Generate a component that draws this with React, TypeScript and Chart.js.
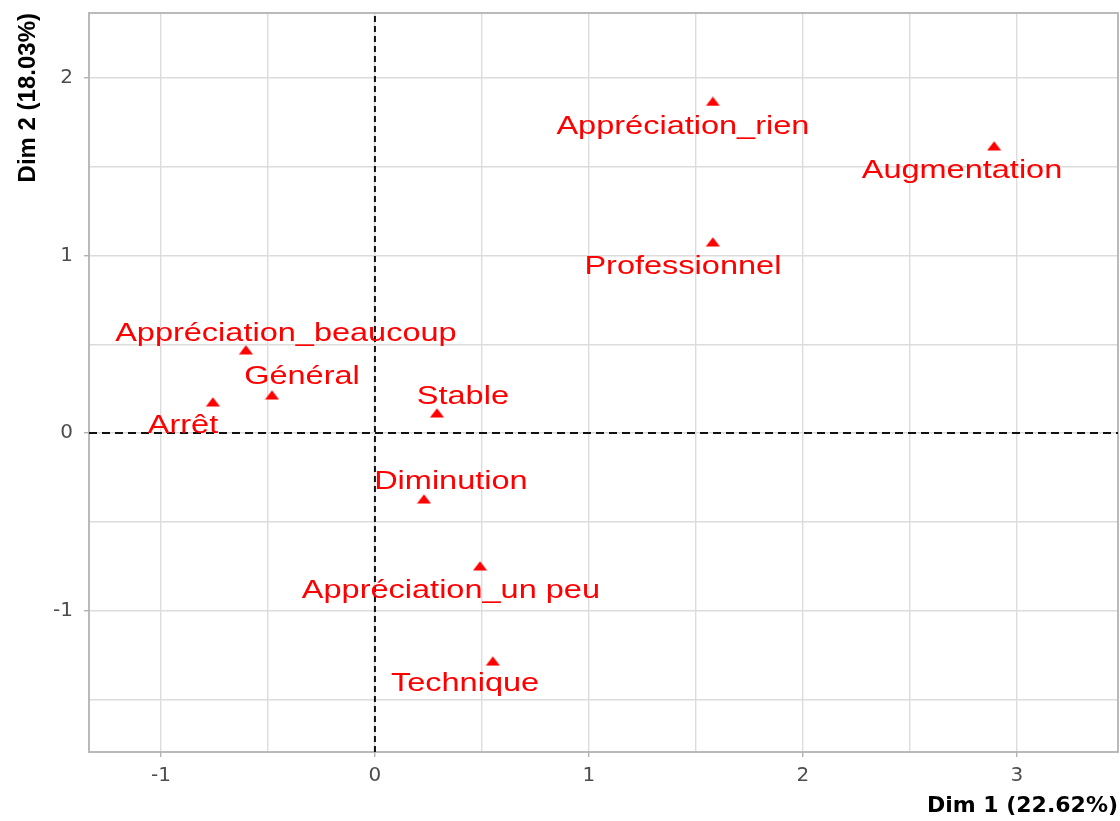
import React, { useEffect, useRef } from 'react';
import { Chart, registerables } from 'chart.js';

Chart.register(...registerables);

// ---- data ----
const categories = [
  'Appréciation_rien',
  'Augmentation',
  'Professionnel',
  'Appréciation_beaucoup',
  'Général',
  'Arrêt',
  'Stable',
  'Diminution',
  'Appréciation_un peu',
  'Technique',
];
const dim1 = [1.579, 2.893, 1.579, -0.603, -0.481, -0.757, 0.29, 0.229, 0.491, 0.551];
const dim2 = [1.868, 1.617, 1.076, 0.468, 0.214, 0.175, 0.113, -0.372, -0.749, -1.285];
// repelled label anchor positions (data units)
const labelDim1 = [1.439, 2.743, 1.439, -0.416, -0.341, -0.897, 0.411, 0.355, 0.355, 0.421];
const labelDim2 = [1.724, 1.473, 0.935, 0.558, 0.313, 0.039, 0.2, -0.279, -0.89, -1.414];

const xTickValues = [-1, 0, 1, 2, 3];
const yTickValues = [-1, 0, 1, 2];
const xRange = [-1.336, 3.472];
const yRange = [-1.797, 2.366];
const xTitle = 'Dim 1 (22.62%)';
const yTitle = 'Dim 2 (18.03%)';

const RED = '#ff0000';
const GRID = '#dcdcdc';
const BORDER = '#b3b3b3';

function makeTriangle(): HTMLCanvasElement {
  const c = document.createElement('canvas');
  c.width = 15;
  c.height = 10;
  const g = c.getContext('2d')!;
  g.fillStyle = RED;
  g.beginPath();
  g.moveTo(0.5, 9.5);
  g.lineTo(7.5, 0.3);
  g.lineTo(14.5, 9.5);
  g.closePath();
  g.fill();
  return c;
}

const panelBorder = {
  id: 'panelBorder',
  beforeDatasetsDraw(chart: any) {
    const { ctx, chartArea: a } = chart;
    ctx.save();
    ctx.strokeStyle = BORDER;
    ctx.lineWidth = 1.8;
    ctx.strokeRect(a.left, a.top, a.right - a.left, a.bottom - a.top);
    ctx.restore();
  },
};

const pointLabels = {
  id: 'pointLabels',
  afterDatasetsDraw(chart: any) {
    const { ctx } = chart;
    const xs = chart.scales.x;
    const ys = chart.scales.y;
    ctx.save();
    ctx.font = '25px "Liberation Sans", Arial, sans-serif';
    ctx.fillStyle = RED;
    ctx.textAlign = 'center';
    ctx.textBaseline = 'middle';
    categories.forEach((t, i) => {
      const px = xs.getPixelForValue(labelDim1[i]);
      const py = ys.getPixelForValue(labelDim2[i]);
      ctx.save();
      ctx.translate(px, py);
      ctx.scale(1.3, 1);
      ctx.fillText(t, 0, 0);
      ctx.restore();
    });
    ctx.restore();
  },
};

export default function App() {
  const ref = useRef<HTMLCanvasElement>(null);

  useEffect(() => {
    if (!ref.current) return;
    const tri = makeTriangle();
    const isMajor = (v: number, list: number[]) => list.some((t) => Math.abs(t - v) < 1e-9);

    const chart = new Chart(ref.current, {
      type: 'scatter',
      data: {
        datasets: [
          {
            label: 'categories',
            data: dim1.map((x, i) => ({ x, y: dim2[i] })),
            pointStyle: tri as any,
            pointRadius: 5,
            backgroundColor: RED,
            borderColor: RED,
          },
          {
            type: 'line',
            label: 'v0',
            data: [
              { x: 0, y: yRange[0] },
              { x: 0, y: yRange[1] },
            ],
            borderColor: '#111111',
            borderWidth: 2,
            borderDash: [6, 4],
            pointRadius: 0,
            fill: false,
          } as any,
          {
            type: 'line',
            label: 'h0',
            data: [
              { x: xRange[0], y: 0 },
              { x: xRange[1], y: 0 },
            ],
            borderColor: '#111111',
            borderWidth: 2,
            borderDash: [8, 5],
            pointRadius: 0,
            fill: false,
          } as any,
        ],
      },
      options: {
        animation: false,
        responsive: false,
        events: [],
        layout: { autoPadding: false, padding: { left: 0, right: 2, top: 13, bottom: 0 } },
        plugins: {
          legend: { display: false },
          tooltip: { enabled: false },
        },
        scales: {
          x: {
            type: 'linear',
            position: 'bottom',
            min: xRange[0],
            max: xRange[1],
            afterFit: (s: any) => {
              s.height = 69;
              s.paddingLeft = 0;
              s.paddingRight = 0;
              s.paddingTop = 0;
              s.paddingBottom = 0;
            },
            ticks: {
              stepSize: 0.5,
              includeBounds: false,
              autoSkip: false,
              maxRotation: 0,
              padding: 7,
              color: '#4d4d4d',
              font: { family: 'DejaVu Sans', size: 20 },
              callback: (v: any) => (isMajor(Number(v), xTickValues) ? String(v) : ''),
            },
            grid: {
              color: GRID,
              lineWidth: 1.4,
              tickLength: 5,
              tickWidth: 1.4,
              tickColor: (c: any) => (c.tick && isMajor(c.tick.value, xTickValues) ? BORDER : 'rgba(0,0,0,0)'),
            },
            border: { display: false },
            title: {
              display: true,
              text: xTitle,
              align: 'end',
              color: '#000',
              font: { family: 'DejaVu Sans', size: 22, weight: 'bold' },
              padding: { top: 0, bottom: 2 },
            },
          },
          y: {
            type: 'linear',
            position: 'left',
            min: yRange[0],
            max: yRange[1],
            afterFit: (s: any) => {
              s.width = 89;
              s.paddingLeft = 0;
              s.paddingRight = 0;
              s.paddingTop = 0;
              s.paddingBottom = 0;
            },
            ticks: {
              stepSize: 0.5,
              includeBounds: false,
              autoSkip: false,
              padding: 11,
              color: '#4d4d4d',
              font: { family: 'DejaVu Sans', size: 20 },
              callback: (v: any) => (isMajor(Number(v), yTickValues) ? String(v) : ''),
            },
            grid: {
              color: GRID,
              lineWidth: 1.4,
              tickLength: 5,
              tickWidth: 1.4,
              tickColor: (c: any) => (c.tick && isMajor(c.tick.value, yTickValues) ? BORDER : 'rgba(0,0,0,0)'),
            },
            border: { display: false },
            title: {
              display: true,
              text: yTitle,
              align: 'end',
              color: '#000',
              font: { family: 'Liberation Sans', size: 24, weight: 'bold' },
              padding: { top: 14, bottom: 0 },
            },
          },
        },
      } as any,
      plugins: [panelBorder, pointLabels],
    });
    return () => chart.destroy();
  }, []);

  return (
    <div style={{ position: 'absolute', left: 0, top: 0, width: 1120, height: 821, background: '#fff' }}>
      <canvas ref={ref} width={1120} height={821} style={{ display: 'block', width: 1120, height: 821 }} />
    </div>
  );
}
